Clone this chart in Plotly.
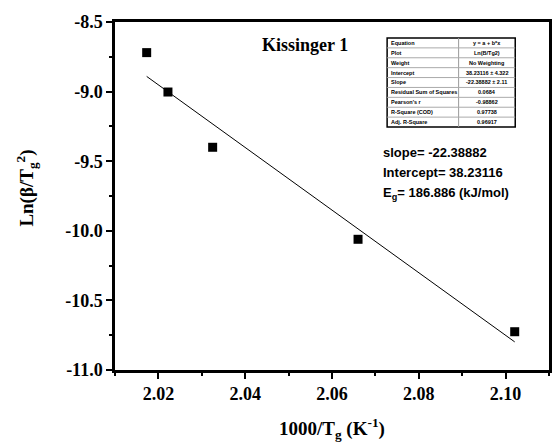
import numpy as np
import plotly.graph_objects as go

# Data
x_vals = [2.0173, 2.0222, 2.0325, 2.0660, 2.1021]
y_vals = [-8.72, -9.003, -9.40, -10.061, -10.725]

x_ticks = [2.02, 2.04, 2.06, 2.08, 2.10]
y_ticks = [-11.0, -10.5, -10.0, -9.5, -9.0, -8.5]

table_keys = ["Equation", "Plot", "Weight", "Intercept", "Slope",
              "Residual Sum of Squares", "Pearson's r", "R-Square (COD)", "Adj. R-Square"]
table_vals = ["y = a + b*x", "Ln(B/Tg2)", "No Weighting", "38.23116 \u00b1 4.322",
              "-22.38882 \u00b1 2.11", "0.0684", "-0.98862", "0.97738", "0.96917"]

slope_txt = "slope= -22.38882"
inter_txt = "Intercept= 38.23116"
eg_txt = "E<sub>g</sub>= 186.886 (kJ/mol)"

# Linear fit
b, a = np.polyfit(x_vals, y_vals, 1)
fx = np.array([min(x_vals), max(x_vals)])
fy = a + b * fx

W, H = 553, 447
L, R, T, B = 115, 1, 22, 77
pw, ph = W - L - R, H - T - B

def px(xp):
    return (xp - L) / pw

def py(yp):
    return (H - B - yp) / ph

serif = "Times New Roman, Liberation Serif, serif"
sans = "Liberation Sans"

fig = go.Figure()
fig.add_trace(go.Scatter(x=x_vals, y=y_vals, mode="markers",
                         marker=dict(symbol="square", size=9, color="black"),
                         showlegend=False))
fig.add_trace(go.Scatter(x=fx, y=fy, mode="lines",
                         line=dict(color="black", width=1), showlegend=False))

def axis_common():
    return dict(showline=True, linecolor="black", linewidth=2.5, mirror=True,
                ticks="outside", ticklen=6, tickwidth=2, tickcolor="black",
                showgrid=False, zeroline=False,
                tickfont=dict(family=serif, size=18, color="black"))

fig.update_layout(
    width=W, height=H,
    margin=dict(l=L, r=R, t=T, b=B),
    paper_bgcolor="white", plot_bgcolor="white",
    font=dict(family=serif, color="black"),
    xaxis=dict(range=[2.01, 2.11], tickvals=x_ticks,
               ticktext=[f"<b>{v:.2f}</b>" for v in x_ticks],
               minor=dict(dtick=0.01, tick0=2.01, ticks="outside", ticklen=3, tickwidth=2, tickcolor="black"),
               **axis_common()),
    yaxis=dict(range=[-11.0, -8.5], tickvals=y_ticks,
               ticktext=[f"<b>{v:.1f}</b>" for v in y_ticks],
               minor=dict(dtick=0.25, tick0=-11.0, ticks="outside", ticklen=3, tickwidth=2, tickcolor="black"),
               **axis_common()),
)

annotations = []
annotations.append(dict(x=px(333), y=py(428), xref="paper", yref="paper",
                        xanchor="center", yanchor="middle",
                        text="<b>1000/T<sub>g</sub> (K<sup>-1</sup>)</b>", showarrow=False,
                        font=dict(family=serif, size=19, color="black")))
annotations.append(dict(x=px(25), y=py(188), xref="paper", yref="paper",
                        xanchor="center", yanchor="middle",
                        text="<b>Ln(\u03b2/T<sub>g</sub><sup>2</sup>)</b>", showarrow=False, textangle=-90,
                        font=dict(family=serif, size=19, color="black")))
annotations.append(dict(x=px(306), y=py(45), xref="paper", yref="paper",
                        xanchor="center", yanchor="middle",
                        text="<b>Kissinger 1</b>", showarrow=False,
                        font=dict(family=serif, size=18, color="black")))
for txt, yp in [(slope_txt, 152), (inter_txt, 172), (eg_txt, 194)]:
    annotations.append(dict(x=px(383), y=py(yp), xref="paper", yref="paper",
                            xanchor="left", yanchor="middle",
                            text=f"<b>{txt}</b>", showarrow=False,
                            font=dict(family=sans, size=13, color="black")))

# Table
tx0, tx1, tdiv = 389, 518, 461
ty0, ty1 = 38, 127
n = len(table_keys)
rh = (ty1 - ty0) / n
shapes = []
shapes.append(dict(type="rect", xref="paper", yref="paper", x0=px(tx0), x1=px(tx1),
                   y0=py(ty1), y1=py(ty0), line=dict(color="black", width=1.5), fillcolor="white"))
shapes.append(dict(type="line", xref="paper", yref="paper", x0=px(tdiv), x1=px(tdiv),
                   y0=py(ty1), y1=py(ty0), line=dict(color="#999999", width=1)))
for i in range(1, n):
    yy = ty0 + i * rh
    shapes.append(dict(type="line", xref="paper", yref="paper", x0=px(tx0), x1=px(tx1),
                       y0=py(yy), y1=py(yy), line=dict(color="#aaaaaa", width=1)))
for i, (k, v) in enumerate(zip(table_keys, table_vals)):
    yc = ty0 + (i + 0.5) * rh
    annotations.append(dict(x=px(tx0 + 2), y=py(yc), xref="paper", yref="paper",
                            xanchor="left", yanchor="middle",
                            text=f"<b>{k}</b>", showarrow=False,
                            font=dict(family=sans, size=5.5, color="black")))
    annotations.append(dict(x=px((tdiv + tx1) / 2), y=py(yc), xref="paper", yref="paper",
                            xanchor="center", yanchor="middle",
                            text=f"<b>{v}</b>", showarrow=False,
                            font=dict(family=sans, size=5.5, color="black")))

fig.update_layout(annotations=annotations, shapes=shapes)
fig.write_html("out.html")
